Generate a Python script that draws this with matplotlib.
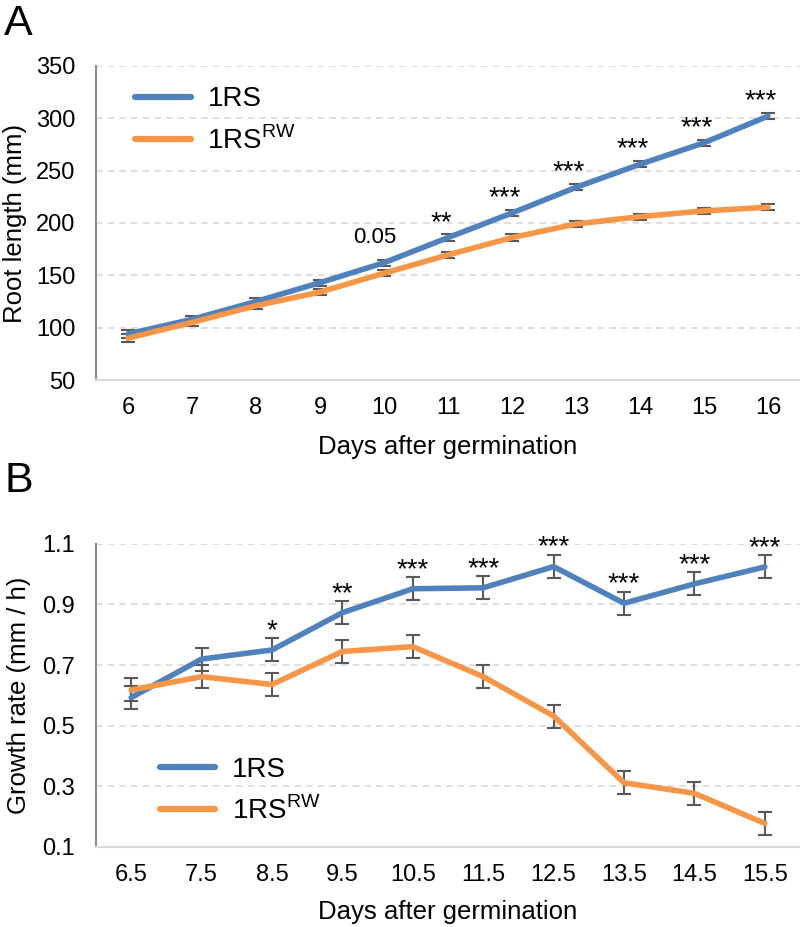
import matplotlib.pyplot as plt
from matplotlib.lines import Line2D

plt.rcParams['font.family'] = ['Liberation Sans', 'DejaVu Sans']

# Panel A: root length
days_a = [6, 7, 8, 9, 10, 11, 12, 13, 14, 15, 16]
rs_len = [94, 108, 125, 143, 162, 186, 209.5, 234, 256, 276.5, 302]
rs_len_err = [4, 3, 3, 3, 3, 3, 3, 3, 3, 3, 3]
rw_len = [90, 105, 121, 134, 152, 169.5, 186, 199, 206, 211.5, 215]
rw_len_err = [4, 3, 3, 3, 3, 3, 3, 3, 3, 3, 3]
sig_a = ['', '', '', '', '0.05', '**', '***', '***', '***', '***', '***']

# Panel B: growth rate
days_b = [6.5, 7.5, 8.5, 9.5, 10.5, 11.5, 12.5, 13.5, 14.5, 15.5]
rs_rate = [0.593, 0.72, 0.75, 0.873, 0.952, 0.955, 1.025, 0.904, 0.968, 1.024]
rs_rate_err = [0.038, 0.038, 0.038, 0.038, 0.038, 0.038, 0.038, 0.038, 0.038, 0.038]
rw_rate = [0.618, 0.662, 0.636, 0.745, 0.761, 0.662, 0.532, 0.312, 0.277, 0.178]
rw_rate_err = [0.038, 0.038, 0.038, 0.038, 0.038, 0.038, 0.038, 0.038, 0.038, 0.038]
sig_b = ['', '', '*', '**', '***', '***', '***', '***', '***', '***']

blue = '#4F81BD'
orange = '#F79646'
err_col = '#595959'
rw_label = r'1RS$^{\mathregular{RW}}$'

fig = plt.figure(figsize=(8, 9.27), dpi=100)
ax_a = fig.add_axes([0.12, 0.590, 0.88, 0.339])
ax_b = fig.add_axes([0.12, 0.0863, 0.88, 0.327])


def style_axis(ax):
    ax.grid(axis='y', color='#d9d9d9', linestyle=(0, (4, 3)), linewidth=1.2)
    ax.set_axisbelow(True)
    for s in ['top', 'right']:
        ax.spines[s].set_visible(False)
    ax.spines['left'].set_color('#8c8c8c')
    ax.spines['left'].set_linewidth(1.5)
    ax.spines['bottom'].set_color('#d9d9d9')
    ax.spines['bottom'].set_linewidth(1.5)
    ax.tick_params(axis='both', length=0, labelsize=17)
    ax.tick_params(axis='y', pad=15)
    ax.tick_params(axis='x', pad=12)


def draw(ax, x, y1, e1, y2, e2):
    ax.errorbar(x, y1, yerr=e1, color=blue, lw=4.0, ecolor=err_col,
                elinewidth=1.5, capsize=5, capthick=1.5,
                solid_capstyle='round')
    ax.errorbar(x, y2, yerr=e2, color=orange, lw=4.0, ecolor=err_col,
                elinewidth=1.5, capsize=5, capthick=1.5,
                solid_capstyle='round')


def add_legend(ax, anchor):
    handles = [Line2D([], [], color=blue, lw=4.5, solid_capstyle='round'),
               Line2D([], [], color=orange, lw=4.5, solid_capstyle='round')]
    ax.legend(handles, ['1RS', rw_label], loc='upper left', fontsize=20,
              frameon=False, handlelength=2.0, handletextpad=0.6,
              bbox_to_anchor=anchor, labelspacing=0.5, borderaxespad=0)


# ==========================================
# PANEL A
# ==========================================
draw(ax_a, days_a, rs_len, rs_len_err, rw_len, rw_len_err)
style_axis(ax_a)
ax_a.set_xlim(5.5, 16.5)
ax_a.set_ylim(50, 350)
ax_a.set_xticks(days_a)
ax_a.set_yticks(range(50, 351, 50))
ax_a.set_ylabel('Root length (mm)', fontsize=18.5, labelpad=6)
ax_a.set_xlabel('Days after germination', fontsize=18.5, labelpad=12)
for x, y, e, s in zip(days_a, rs_len, rs_len_err, sig_a):
    if s == '0.05':
        ax_a.annotate(s, (x, y + e), xytext=(-7, 8), textcoords='offset points',
                      ha='center', va='bottom', fontsize=16)
    elif s:
        ax_a.annotate(s, (x, y + e), xytext=(-5, -1), textcoords='offset points',
                      ha='center', va='bottom', fontsize=20)
add_legend(ax_a, (0.04, 0.97))
fig.text(0.005, 0.996, 'A', fontsize=31, va='top', ha='left')

# ==========================================
# PANEL B
# ==========================================
draw(ax_b, days_b, rs_rate, rs_rate_err, rw_rate, rw_rate_err)
style_axis(ax_b)
ax_b.set_xlim(6.0, 16.0)
ax_b.set_ylim(0.1, 1.1)
ax_b.set_xticks(days_b)
ax_b.set_yticks([0.1, 0.3, 0.5, 0.7, 0.9, 1.1])
ax_b.set_yticklabels(['0.1', '0.3', '0.5', '0.7', '0.9', '1.1'])
ax_b.set_ylabel('Growth rate (mm / h)', fontsize=18.5, labelpad=8)
ax_b.set_xlabel('Days after germination', fontsize=18.5, labelpad=10)
for x, y, e, s in zip(days_b, rs_rate, rs_rate_err, sig_b):
    if s:
        ax_b.annotate(s, (x, y + e), xytext=(0, -4), textcoords='offset points',
                      ha='center', va='bottom', fontsize=20)
add_legend(ax_b, (0.075, 0.335))
fig.text(0.005, 0.503, 'B', fontsize=31, va='top', ha='left')

plt.savefig('out.png', dpi=100)
